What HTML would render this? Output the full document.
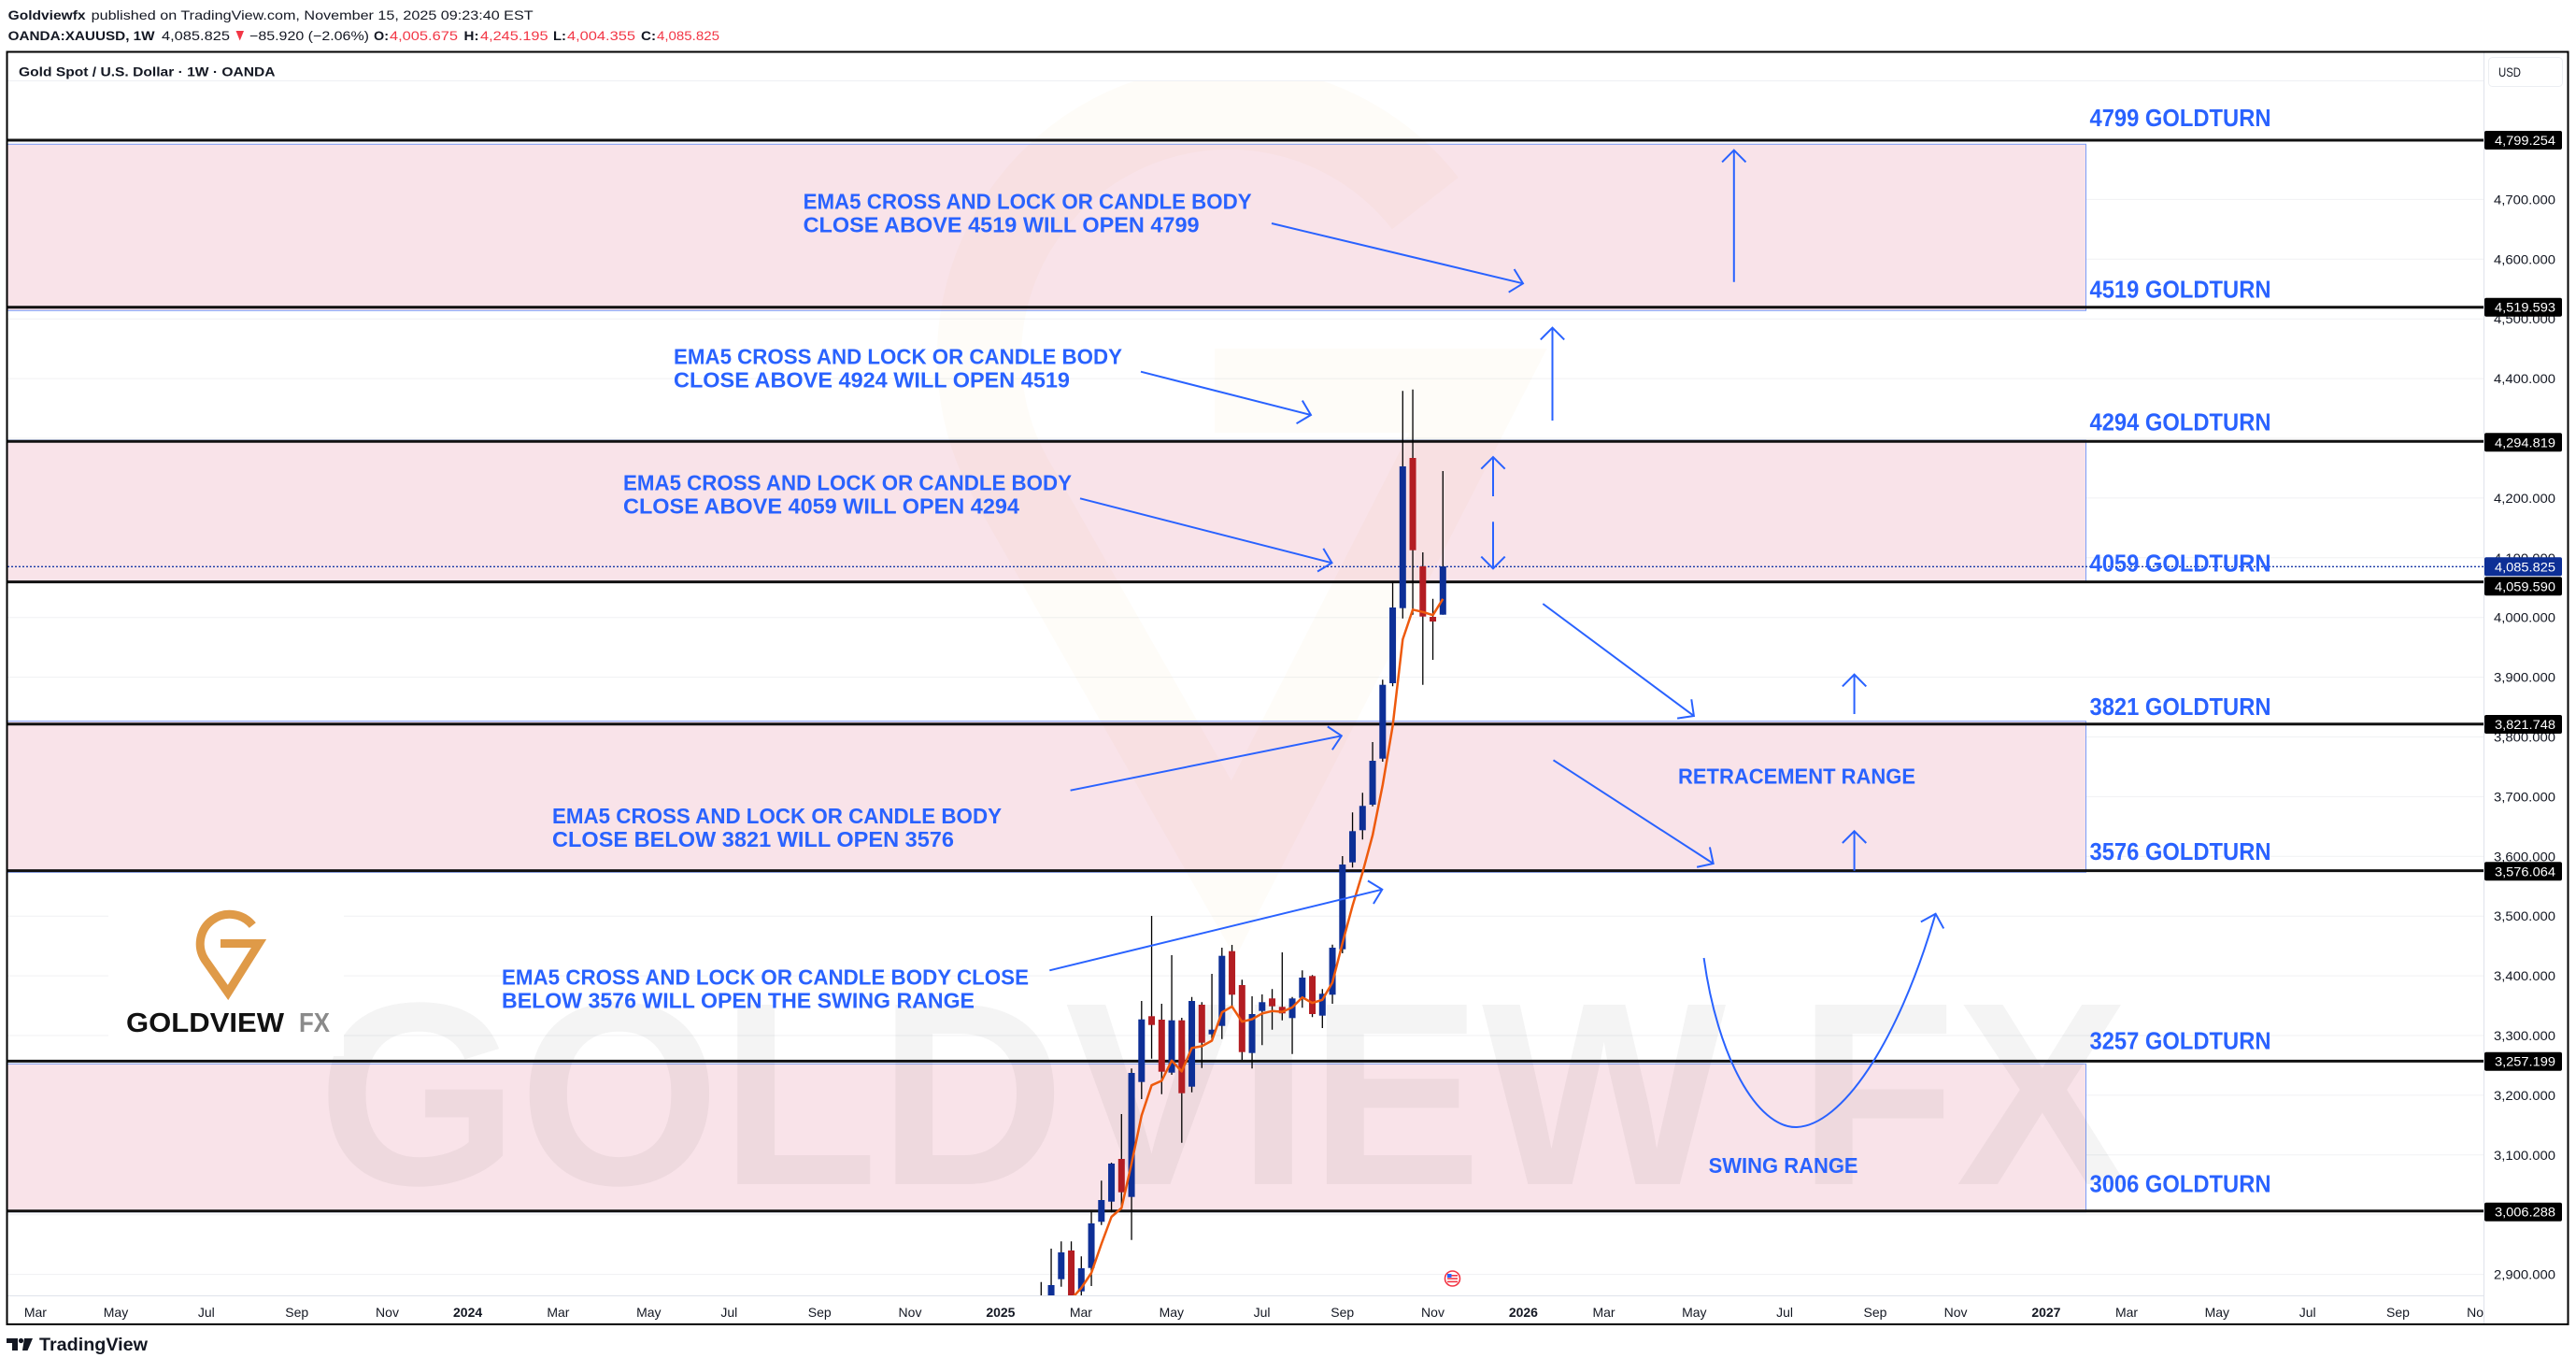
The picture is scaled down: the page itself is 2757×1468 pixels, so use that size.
<!DOCTYPE html>
<html><head><meta charset="utf-8"><style>html,body{margin:0;padding:0;background:#fff;}svg{display:block;}</style></head>
<body>
<svg xmlns="http://www.w3.org/2000/svg" width="2757" height="1468" viewBox="0 0 2757 1468" font-family="'Liberation Sans', Arial, sans-serif">
<defs>
<clipPath id="plot"><rect x="8" y="87" width="2650" height="1299.5"/></clipPath>
<clipPath id="taxis"><rect x="8" y="1387" width="2650" height="30"/></clipPath>
<marker id="ah" viewBox="-16 -16 20 32" refX="0" refY="0" markerWidth="20" markerHeight="32" markerUnits="userSpaceOnUse" orient="auto"><path d="M-12.7,-12.7 L0,0 L-12.7,12.7" fill="none" stroke="#2962ff" stroke-width="2"/></marker>
</defs>
<rect width="2757" height="1468" fill="#fff"/>

<!-- header -->
<g font-size="14" fill="#131722">
<text x="8.6" y="21" font-weight="bold" textLength="83" lengthAdjust="spacingAndGlyphs">Goldviewfx</text>
<text x="97.6" y="21" textLength="473" lengthAdjust="spacingAndGlyphs">published on TradingView.com, November 15, 2025 09:23:40 EST</text>
<text x="8.6" y="43" font-weight="bold" textLength="157" lengthAdjust="spacingAndGlyphs">OANDA:XAUUSD, 1W</text>
<text x="173" y="43" textLength="73" lengthAdjust="spacingAndGlyphs">4,085.825</text>
<path d="M252.5 33 H261 L256.75 43.5 Z" fill="#f23645"/>
<text x="267" y="43" textLength="128" lengthAdjust="spacingAndGlyphs">−85.920 (−2.06%)</text>
<text x="400" y="43" font-weight="bold" textLength="16" lengthAdjust="spacingAndGlyphs">O:</text>
<text x="417" y="43" fill="#f23645" textLength="73" lengthAdjust="spacingAndGlyphs">4,005.675</text>
<text x="496.5" y="43" font-weight="bold" textLength="16" lengthAdjust="spacingAndGlyphs">H:</text>
<text x="514" y="43" fill="#f23645" textLength="72.6" lengthAdjust="spacingAndGlyphs">4,245.195</text>
<text x="592" y="43" font-weight="bold" textLength="14" lengthAdjust="spacingAndGlyphs">L:</text>
<text x="607" y="43" fill="#f23645" textLength="73" lengthAdjust="spacingAndGlyphs">4,004.355</text>
<text x="686" y="43" font-weight="bold" textLength="16" lengthAdjust="spacingAndGlyphs">C:</text>
<text x="703" y="43" fill="#f23645" textLength="67" lengthAdjust="spacingAndGlyphs">4,085.825</text>
</g>

<!-- chart title -->
<text x="20" y="81.7" font-size="14" font-weight="bold" fill="#131722" textLength="274.5" lengthAdjust="spacingAndGlyphs">Gold Spot / U.S. Dollar · 1W · OANDA</text>
<line x1="8" y1="86.5" x2="2658" y2="86.5" stroke="#eef0f4" stroke-width="1"/>

<!-- grid -->
<g stroke="#f0f1f3" stroke-width="1">
<line x1="8" y1="213.4" x2="2658" y2="213.4"/>
<line x1="8" y1="277.3" x2="2658" y2="277.3"/>
<line x1="8" y1="341.2" x2="2658" y2="341.2"/>
<line x1="8" y1="405.1" x2="2658" y2="405.1"/>
<line x1="8" y1="469" x2="2658" y2="469"/>
<line x1="8" y1="532.9" x2="2658" y2="532.9"/>
<line x1="8" y1="596.8" x2="2658" y2="596.8"/>
<line x1="8" y1="660.7" x2="2658" y2="660.7"/>
<line x1="8" y1="724.6" x2="2658" y2="724.6"/>
<line x1="8" y1="788.5" x2="2658" y2="788.5"/>
<line x1="8" y1="852.4" x2="2658" y2="852.4"/>
<line x1="8" y1="916.3" x2="2658" y2="916.3"/>
<line x1="8" y1="980.2" x2="2658" y2="980.2"/>
<line x1="8" y1="1044.1" x2="2658" y2="1044.1"/>
<line x1="8" y1="1108" x2="2658" y2="1108"/>
<line x1="8" y1="1171.9" x2="2658" y2="1171.9"/>
<line x1="8" y1="1235.8" x2="2658" y2="1235.8"/>
<line x1="8" y1="1299.7" x2="2658" y2="1299.7"/>
<line x1="8" y1="1363.6" x2="2658" y2="1363.6"/>
</g>

<g clip-path="url(#plot)">
<!-- pink zones -->
<g fill="#f9e3e9" stroke="#7b9cf7" stroke-width="1">
<rect x="8" y="154.3" width="2224.5" height="178"/>
<rect x="8" y="471" width="2224.5" height="151"/>
<rect x="8" y="771.7" width="2224.5" height="161.6"/>
<rect x="8" y="1138.3" width="2224.5" height="158.4"/>
</g>

<!-- faint watermarks -->
<g opacity="0.03" stroke="#e0902a" stroke-width="90" fill="none">
<path d="M1525.4 217.6 A267 267 0 0 0 1081.9 512.2 L1320 930 L1582 418 L1300 418"/>
</g>
<text x="340" y="1267" font-size="279" font-weight="bold" textLength="1938" lengthAdjust="spacingAndGlyphs" fill="#000" fill-opacity="0.045">GOLDVIEW FX</text>

<!-- logo box -->
<rect x="116" y="950" width="252" height="180" fill="#fff"/>
<path d="M270.3 990.1 A31.5 31.5 0 0 0 219.4 1027.1 L244 1062 L277 1009.5 L236 1009.5" fill="none" stroke="#df9a48" stroke-width="9" stroke-linejoin="miter"/>
<text x="135" y="1104" font-size="29" font-weight="bold" fill="#111" textLength="169" lengthAdjust="spacingAndGlyphs">GOLDVIEW</text>
<text x="320" y="1104" font-size="29" font-weight="bold" fill="#8a8a8a" textLength="33" lengthAdjust="spacingAndGlyphs">FX</text>

<!-- black level lines -->
<g stroke="#111" stroke-width="3">
<line x1="8" y1="150" x2="2658" y2="150"/>
<line x1="8" y1="328.7" x2="2658" y2="328.7"/>
<line x1="8" y1="472.3" x2="2658" y2="472.3"/>
<line x1="8" y1="622.6" x2="2658" y2="622.6"/>
<line x1="8" y1="774.7" x2="2658" y2="774.7"/>
<line x1="8" y1="931.6" x2="2658" y2="931.6"/>
<line x1="8" y1="1135.4" x2="2658" y2="1135.4"/>
<line x1="8" y1="1295.7" x2="2658" y2="1295.7"/>
</g>

<!-- current price dotted line -->
<line x1="8" y1="606.3" x2="2658" y2="606.3" stroke="#1a3aa6" stroke-width="1.3" stroke-dasharray="2 2"/>

<!-- wicks -->
<path fill="none" stroke="#000" stroke-width="1.3" d="M1114.3 1371.7V1386 M1125.05 1336V1386 M1135.8 1328.3V1376.7 M1146.55 1328.3V1386 M1157.3 1344.3V1386 M1168.05 1296.7V1376 M1178.8 1263.3V1310.7 M1189.55 1244V1297.3 M1200.3 1192V1290 M1211.05 1143.3V1326.7 M1221.8 1071V1176 M1232.55 980V1132.7 M1243.3 1074V1170.7 M1254.05 1022V1150 M1264.8 1089V1222.7 M1275.55 1066.7V1168.7 M1286.3 1072.3V1142.7 M1297.05 1042V1111.7 M1307.8 1014V1111.7 M1318.55 1011V1076.7 M1329.3 1048.3V1134 M1340.05 1066V1143.3 M1350.8 1064V1118.3 M1361.55 1058.3V1101.7 M1372.3 1019V1091.7 M1383.05 1066.7V1127.7 M1393.8 1038.3V1078.3 M1404.55 1043.3V1088.3 M1415.3 1058.3V1100 M1426.05 1010.7V1074 M1436.8 916V1020 M1447.55 869.3V928.3 M1458.3 848.3V898.3 M1469.05 794V862.7 M1479.8 727.3V815 M1490.55 622.7V734.3 M1501.3 418.3V661.7 M1512.05 416.7V657.7 M1522.8 591V732.7 M1533.55 640.7V706 M1544.3 504V657.7"/>

<!-- blue bodies -->
<g fill="#0d2f96">
<rect x="1121.55" y="1375" width="7" height="11"/>
<rect x="1132.3" y="1340" width="7" height="28.7"/>
<rect x="1153.8" y="1357" width="7" height="24.7"/>
<rect x="1164.55" y="1309" width="7" height="47.7"/>
<rect x="1175.3" y="1284" width="7" height="23.3"/>
<rect x="1186.05" y="1245" width="7" height="40.7"/>
<rect x="1207.55" y="1148" width="7" height="132.7"/>
<rect x="1218.3" y="1090.7" width="7" height="67"/>
<rect x="1250.55" y="1091.7" width="7" height="56"/>
<rect x="1272.05" y="1071" width="7" height="91.7"/>
<rect x="1293.55" y="1101.7" width="7" height="5"/>
<rect x="1304.3" y="1022.7" width="7" height="75"/>
<rect x="1336.55" y="1085" width="7" height="41.7"/>
<rect x="1347.3" y="1072.3" width="7" height="9.4"/>
<rect x="1379.55" y="1068.3" width="7" height="21"/>
<rect x="1390.3" y="1046" width="7" height="21.7"/>
<rect x="1411.8" y="1063.3" width="7" height="23.4"/>
<rect x="1422.55" y="1014" width="7" height="50.3"/>
<rect x="1433.3" y="925" width="7" height="90.7"/>
<rect x="1444.05" y="889.3" width="7" height="33.4"/>
<rect x="1454.8" y="862.3" width="7" height="26"/>
<rect x="1465.55" y="814" width="7" height="47"/>
<rect x="1476.3" y="732.7" width="7" height="79"/>
<rect x="1487.05" y="650" width="7" height="81"/>
<rect x="1497.8" y="499" width="7" height="151.7"/>
<rect x="1540.8" y="606" width="7" height="51.7"/>
</g>
<!-- red bodies -->
<g fill="#b31d22">
<rect x="1143.05" y="1338" width="7" height="48"/>
<rect x="1196.8" y="1240" width="7" height="35.7"/>
<rect x="1229.05" y="1087.3" width="7" height="9.4"/>
<rect x="1239.8" y="1091" width="7" height="55.7"/>
<rect x="1261.3" y="1091.7" width="7" height="78"/>
<rect x="1282.8" y="1075" width="7" height="40.7"/>
<rect x="1315.05" y="1017.7" width="7" height="46.6"/>
<rect x="1325.8" y="1054" width="7" height="71.7"/>
<rect x="1358.05" y="1068.3" width="7" height="8.4"/>
<rect x="1368.8" y="1077.3" width="7" height="7"/>
<rect x="1401.05" y="1044.3" width="7" height="40.7"/>
<rect x="1508.55" y="490" width="7" height="98.7"/>
<rect x="1519.3" y="606" width="7" height="53.7"/>
<rect x="1530.05" y="660" width="7" height="5"/>
</g>

<!-- EMA5 -->
<polyline fill="none" stroke="#ee5a0d" stroke-width="2.5" stroke-linejoin="round" points="1146.55,1390 1157.3,1378 1168.05,1362 1178.8,1331 1189.55,1302 1200.3,1292.6 1211.05,1244.9 1221.8,1193.5 1232.55,1161.2 1243.3,1156.4 1254.05,1134.8 1264.8,1146.4 1275.55,1121.3 1286.3,1119.4 1297.05,1113.5 1307.8,1083.2 1318.55,1076.9 1329.3,1093.2 1340.05,1090.5 1350.8,1084.4 1361.55,1081.8 1372.3,1082.6 1383.05,1077.9 1393.8,1067.2 1404.55,1073.1 1415.3,1069.8 1426.05,1051.2 1436.8,1009.1 1447.55,969.2 1458.3,933.6 1469.05,893.7 1479.8,840 1490.55,776.7 1501.3,684.1 1512.05,652.3 1522.8,654.8 1533.55,658.2 1544.3,640.8"/>

<!-- event flag icon -->
<circle cx="1554.5" cy="1368" r="8" fill="#fff" stroke="#f23645" stroke-width="1.6"/>
<g fill="#f23645"><rect x="1549" y="1364" width="11" height="1.6"/><rect x="1549" y="1367.3" width="11" height="1.6"/><rect x="1549" y="1370.6" width="11" height="1.6"/></g>
<rect x="1549" y="1363" width="4.5" height="4" fill="#2962ff"/>

<!-- arrows -->
<g stroke="#2962ff" stroke-width="2" fill="none" marker-end="url(#ah)">
<line x1="1361" y1="239" x2="1630" y2="303.3"/>
<line x1="1221" y1="397.7" x2="1403" y2="444"/>
<line x1="1156" y1="533.3" x2="1425.5" y2="602.3"/>
<line x1="1145.6" y1="845.7" x2="1435.8" y2="787.3"/>
<line x1="1123.3" y1="1038.3" x2="1479.3" y2="951.7"/>
<line x1="1855.8" y1="301.7" x2="1855.8" y2="160.7"/>
<line x1="1661.5" y1="450" x2="1661.5" y2="350.7"/>
<line x1="1598" y1="531" x2="1598" y2="489"/>
<line x1="1598" y1="558.3" x2="1598" y2="608.3"/>
<line x1="1651.3" y1="646" x2="1812.9" y2="766"/>
<line x1="1984.6" y1="764" x2="1984.6" y2="721.7"/>
<line x1="1662.5" y1="813.3" x2="1833.7" y2="924"/>
<line x1="1984.6" y1="931.7" x2="1984.6" y2="889.3"/>
<path d="M1823.6 1025 C1838 1130 1880 1207 1923 1206 C1970 1204 2030 1120 2071.6 977.7"/>
</g>

<!-- annotations -->
<g fill="#2962ff" font-weight="bold" font-size="23.5">
<text x="859.6" y="223.3" textLength="480" lengthAdjust="spacingAndGlyphs">EMA5 CROSS AND LOCK OR CANDLE BODY</text>
<text x="859.6" y="248.3" textLength="424" lengthAdjust="spacingAndGlyphs">CLOSE ABOVE 4519 WILL OPEN 4799</text>
<text x="721" y="389.3" textLength="480" lengthAdjust="spacingAndGlyphs">EMA5 CROSS AND LOCK OR CANDLE BODY</text>
<text x="721" y="414.3" textLength="424" lengthAdjust="spacingAndGlyphs">CLOSE ABOVE 4924 WILL OPEN 4519</text>
<text x="667" y="524.3" textLength="480" lengthAdjust="spacingAndGlyphs">EMA5 CROSS AND LOCK OR CANDLE BODY</text>
<text x="667" y="549.3" textLength="424" lengthAdjust="spacingAndGlyphs">CLOSE ABOVE 4059 WILL OPEN 4294</text>
<text x="591" y="881" textLength="481" lengthAdjust="spacingAndGlyphs">EMA5 CROSS AND LOCK OR CANDLE BODY</text>
<text x="591" y="906" textLength="430" lengthAdjust="spacingAndGlyphs">CLOSE BELOW 3821 WILL OPEN 3576</text>
<text x="537" y="1053.3" textLength="564" lengthAdjust="spacingAndGlyphs">EMA5 CROSS AND LOCK OR CANDLE BODY CLOSE</text>
<text x="537" y="1078.3" textLength="506" lengthAdjust="spacingAndGlyphs">BELOW 3576 WILL OPEN THE SWING RANGE</text>
<text x="1796" y="838.7" textLength="254" lengthAdjust="spacingAndGlyphs">RETRACEMENT RANGE</text>
<text x="1828.6" y="1255" textLength="160" lengthAdjust="spacingAndGlyphs">SWING RANGE</text>
</g>
<g fill="#2962ff" font-weight="bold" font-size="25.5">
<text x="2236.5" y="135" textLength="194" lengthAdjust="spacingAndGlyphs">4799 GOLDTURN</text>
<text x="2236.5" y="318.3" textLength="194" lengthAdjust="spacingAndGlyphs">4519 GOLDTURN</text>
<text x="2236.5" y="460.7" textLength="194" lengthAdjust="spacingAndGlyphs">4294 GOLDTURN</text>
<text x="2236.5" y="611.7" textLength="194" lengthAdjust="spacingAndGlyphs">4059 GOLDTURN</text>
<text x="2236.5" y="765" textLength="194" lengthAdjust="spacingAndGlyphs">3821 GOLDTURN</text>
<text x="2236.5" y="920" textLength="194" lengthAdjust="spacingAndGlyphs">3576 GOLDTURN</text>
<text x="2236.5" y="1122.7" textLength="194" lengthAdjust="spacingAndGlyphs">3257 GOLDTURN</text>
<text x="2236.5" y="1275.7" textLength="194" lengthAdjust="spacingAndGlyphs">3006 GOLDTURN</text>
</g>
</g>

<!-- axes separators -->
<line x1="8" y1="1386.5" x2="2658" y2="1386.5" stroke="#e0e3eb" stroke-width="1"/>
<line x1="2658.5" y1="56" x2="2658.5" y2="1417" stroke="#e0e3eb" stroke-width="1"/>

<!-- USD box -->
<rect x="2663.5" y="61.5" width="79" height="31" rx="4" fill="#fff" stroke="#eceef2"/>
<text x="2674" y="82" font-size="14" fill="#131722" textLength="24" lengthAdjust="spacingAndGlyphs">USD</text>

<!-- price labels -->
<g font-size="14" fill="#131722">
<text x="2669" y="218.4" textLength="66" lengthAdjust="spacingAndGlyphs">4,700.000</text>
<text x="2669" y="282.3" textLength="66" lengthAdjust="spacingAndGlyphs">4,600.000</text>
<text x="2669" y="346.2" textLength="66" lengthAdjust="spacingAndGlyphs">4,500.000</text>
<text x="2669" y="410.1" textLength="66" lengthAdjust="spacingAndGlyphs">4,400.000</text>
<text x="2669" y="537.9" textLength="66" lengthAdjust="spacingAndGlyphs">4,200.000</text>
<text x="2669" y="601.8" textLength="66" lengthAdjust="spacingAndGlyphs">4,100.000</text>
<text x="2669" y="665.7" textLength="66" lengthAdjust="spacingAndGlyphs">4,000.000</text>
<text x="2669" y="729.6" textLength="66" lengthAdjust="spacingAndGlyphs">3,900.000</text>
<text x="2669" y="793.5" textLength="66" lengthAdjust="spacingAndGlyphs">3,800.000</text>
<text x="2669" y="857.4" textLength="66" lengthAdjust="spacingAndGlyphs">3,700.000</text>
<text x="2669" y="921.3" textLength="66" lengthAdjust="spacingAndGlyphs">3,600.000</text>
<text x="2669" y="985.2" textLength="66" lengthAdjust="spacingAndGlyphs">3,500.000</text>
<text x="2669" y="1049.1" textLength="66" lengthAdjust="spacingAndGlyphs">3,400.000</text>
<text x="2669" y="1113" textLength="66" lengthAdjust="spacingAndGlyphs">3,300.000</text>
<text x="2669" y="1176.9" textLength="66" lengthAdjust="spacingAndGlyphs">3,200.000</text>
<text x="2669" y="1240.8" textLength="66" lengthAdjust="spacingAndGlyphs">3,100.000</text>
<text x="2669" y="1368.6" textLength="66" lengthAdjust="spacingAndGlyphs">2,900.000</text>
</g>

<!-- price tags -->
<g fill="#000">
<rect x="2659" y="140" width="83" height="20" rx="2"/>
<rect x="2659" y="318.7" width="83" height="20" rx="2"/>
<rect x="2659" y="463.3" width="83" height="20" rx="2"/>
<rect x="2659" y="617.3" width="83" height="20" rx="2"/>
<rect x="2659" y="765" width="83" height="20" rx="2"/>
<rect x="2659" y="922.3" width="83" height="20" rx="2"/>
<rect x="2659" y="1125.7" width="83" height="20" rx="2"/>
<rect x="2659" y="1286.7" width="83" height="20" rx="2"/>
</g>
<rect x="2659" y="596.3" width="83" height="20" rx="2" fill="#0d2f96"/>
<g font-size="14" fill="#fff">
<text x="2670" y="155" textLength="65" lengthAdjust="spacingAndGlyphs">4,799.254</text>
<text x="2670" y="333.7" textLength="65" lengthAdjust="spacingAndGlyphs">4,519.593</text>
<text x="2670" y="478.3" textLength="65" lengthAdjust="spacingAndGlyphs">4,294.819</text>
<text x="2670" y="611.3" textLength="65" lengthAdjust="spacingAndGlyphs">4,085.825</text>
<text x="2670" y="632.3" textLength="65" lengthAdjust="spacingAndGlyphs">4,059.590</text>
<text x="2670" y="780" textLength="65" lengthAdjust="spacingAndGlyphs">3,821.748</text>
<text x="2670" y="937.3" textLength="65" lengthAdjust="spacingAndGlyphs">3,576.064</text>
<text x="2670" y="1140.7" textLength="65" lengthAdjust="spacingAndGlyphs">3,257.199</text>
<text x="2670" y="1301.7" textLength="65" lengthAdjust="spacingAndGlyphs">3,006.288</text>
</g>

<!-- time axis -->
<g font-size="14" fill="#131722" text-anchor="middle" clip-path="url(#taxis)">
<text x="37.9" y="1409">Mar</text>
<text x="124" y="1409">May</text>
<text x="220.8" y="1409">Jul</text>
<text x="317.7" y="1409">Sep</text>
<text x="414.5" y="1409">Nov</text>
<text x="500.6" y="1409" font-weight="bold">2024</text>
<text x="597.4" y="1409">Mar</text>
<text x="694.3" y="1409">May</text>
<text x="780.3" y="1409">Jul</text>
<text x="877.2" y="1409">Sep</text>
<text x="974" y="1409">Nov</text>
<text x="1070.9" y="1409" font-weight="bold">2025</text>
<text x="1156.9" y="1409">Mar</text>
<text x="1253.8" y="1409">May</text>
<text x="1350.6" y="1409">Jul</text>
<text x="1436.7" y="1409">Sep</text>
<text x="1533.5" y="1409">Nov</text>
<text x="1630.4" y="1409" font-weight="bold">2026</text>
<text x="1716.5" y="1409">Mar</text>
<text x="1813.3" y="1409">May</text>
<text x="1910.1" y="1409">Jul</text>
<text x="2007" y="1409">Sep</text>
<text x="2093.1" y="1409">Nov</text>
<text x="2189.9" y="1409" font-weight="bold">2027</text>
<text x="2276" y="1409">Mar</text>
<text x="2372.8" y="1409">May</text>
<text x="2469.7" y="1409">Jul</text>
<text x="2566.5" y="1409">Sep</text>
<text x="2652.6" y="1409">Nov</text>
</g>

<!-- frame -->
<rect x="7.5" y="55.5" width="2741" height="1361.5" fill="none" stroke="#000" stroke-width="2"/>

<!-- TradingView logo -->
<g fill="#131722">
<rect x="7" y="1432" width="12" height="5"/>
<rect x="13" y="1432" width="6" height="13"/>
<circle cx="22.5" cy="1434.5" r="2.6"/>
<path d="M26 1432 H35 L29.5 1445 H24 Z"/>
</g>
<text x="42" y="1445" font-size="19" font-weight="bold" fill="#131722" textLength="116" lengthAdjust="spacingAndGlyphs">TradingView</text>
</svg>
</body></html>
